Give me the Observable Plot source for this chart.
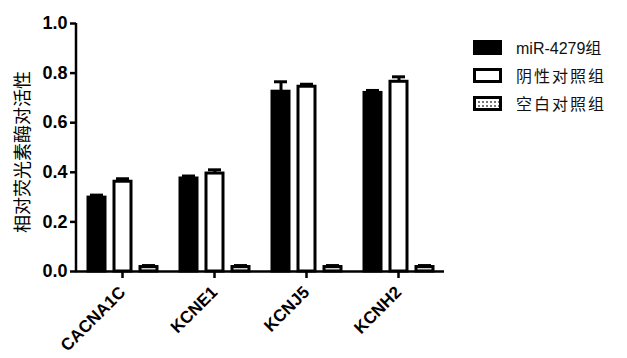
<!DOCTYPE html>
<html>
<head>
<meta charset="utf-8">
<script src="https://cdn.jsdelivr.net/npm/d3@7"></script>
<script src="https://cdn.jsdelivr.net/npm/@observablehq/plot@0.6"></script>
<style>
  body { margin: 0; background: #fff; }
  #wrap { position: relative; width: 627px; height: 358px; overflow: hidden; }
  #ytitle { position: absolute; left: 21px; top: 152px; transform: translate(-50%, -50%) rotate(-90deg);
    font-family: "Noto Sans CJK SC", sans-serif; font-size: 18px; white-space: nowrap; color: #000; }
  #legend { position: absolute; left: 473px; top: 33px; font-family: "Liberation Sans", "Noto Sans CJK SC", sans-serif; font-size: 16px; color: #111; }
  .row { display: flex; align-items: center; height: 28px; }
  .sw { width: 29px; height: 15px; box-sizing: border-box; margin-right: 14px; }
</style>
</head>
<body>
<div id="wrap"></div>
<script>
const genes = ["CACNA1C", "KCNE1", "KCNJ5", "KCNH2"];
const groups = ["miR-4279组", "阴性对照组", "空白对照组"];
const mirValues = [0.298, 0.375, 0.725, 0.72];
const mirErrors = [0.01, 0.01, 0.04, 0.01];
const negValues = [0.362, 0.395, 0.745, 0.765];
const negErrors = [0.012, 0.015, 0.01, 0.02];
const blankValues = [0.018, 0.018, 0.018, 0.018];
const blankErrors = [0.006, 0.006, 0.006, 0.006];
const yTicks = [0, 0.2, 0.4, 0.6, 0.8, 1.0];
const yTitle = "相对荧光素酶对活性";
const fills = ["#000000", "#ffffff", "#d8d8d8"];

const seriesValues = [mirValues, negValues, blankValues];
const seriesErrors = [mirErrors, negErrors, blankErrors];
const data = [];
genes.forEach((g, i) => groups.forEach((s, j) => {
  data.push({gene: g, group: s, value: seriesValues[j][i], err: seriesErrors[j][i]});
}));

const chart = Plot.plot({
  width: 627,
  height: 358,
  marginLeft: 76,
  marginRight: 183,
  marginTop: 23,
  marginBottom: 87,
  style: {fontFamily: "Liberation Sans, Arial, sans-serif", fontWeight: "bold", fontSize: "17px", color: "#000", background: "#fff"},
  fx: {domain: genes, padding: 0, label: null},
  x: {domain: groups, axis: null, paddingInner: 0.35, paddingOuter: 0.44},
  y: {domain: [0, 1], label: null},
  color: {domain: groups, range: fills},
  marks: [
    Plot.axisY({ticks: yTicks, tickFormat: ".1f", tickSize: 6, tickPadding: 3, strokeWidth: 2.5, fontSize: 18, fontWeight: "bold", label: null}),
    Plot.axisFx({anchor: "bottom", tickSize: 7, tickPadding: 11, tickRotate: -45, strokeWidth: 2.5, fontSize: 17, fontWeight: "bold", label: null}),
    Plot.ruleX(data, {fx: "gene", x: "group", y1: "value", y2: d => d.value + d.err, stroke: "#000", strokeWidth: 3}),
    Plot.tickY(data, {fx: "gene", x: "group", y: d => d.value + d.err, stroke: "#000", strokeWidth: 3, insetLeft: 2, insetRight: 2}),
    Plot.barY(data, {fx: "gene", x: "group", y: "value", fill: "group", stroke: "#000", strokeWidth: 3}),
    Plot.ruleY([0], {stroke: "#000", strokeWidth: 2.5})
  ]
});
const wrap = document.getElementById("wrap");
wrap.appendChild(chart);

// y-axis line, placed from the rendered y-axis ticks and the library's y scale
const svg = d3.select(chart.tagName.toLowerCase() === "svg" ? chart : chart.querySelector("svg"));
const tickGroup = svg.select('g[aria-label="y-axis tick"]').node();
let ax = 76;
if (tickGroup) { const b = tickGroup.getBBox(); ax = b.x + b.width; }
const yr = chart.scale("y").range;
svg.append("line")
  .attr("x1", ax).attr("x2", ax)
  .attr("y1", Math.max(yr[0], yr[1]) + 1.25).attr("y2", Math.min(yr[0], yr[1]))
  .attr("stroke", "#000").attr("stroke-width", 2.5);

const t = document.createElement("div");
t.id = "ytitle";
t.textContent = yTitle;
wrap.appendChild(t);

const lg = document.createElement("div");
lg.id = "legend";
const swStyles = [
  "background:#000;",
  "background:#fff;border:3px solid #000;",
  "background:#fff;border:3px solid #000;background-image:radial-gradient(circle,#777 0.8px,transparent 1.2px);background-size:4px 4px;background-position:1px 1px;"
];
groups.forEach((g, i) => {
  const r = document.createElement("div");
  r.className = "row";
  const s = document.createElement("div");
  s.className = "sw";
  s.setAttribute("style", swStyles[i]);
  const l = document.createElement("span");
  l.textContent = g;
  if (i > 0) l.style.letterSpacing = "2px";
  r.appendChild(s);
  r.appendChild(l);
  lg.appendChild(r);
});
wrap.appendChild(lg);
</script>
</body>
</html>
